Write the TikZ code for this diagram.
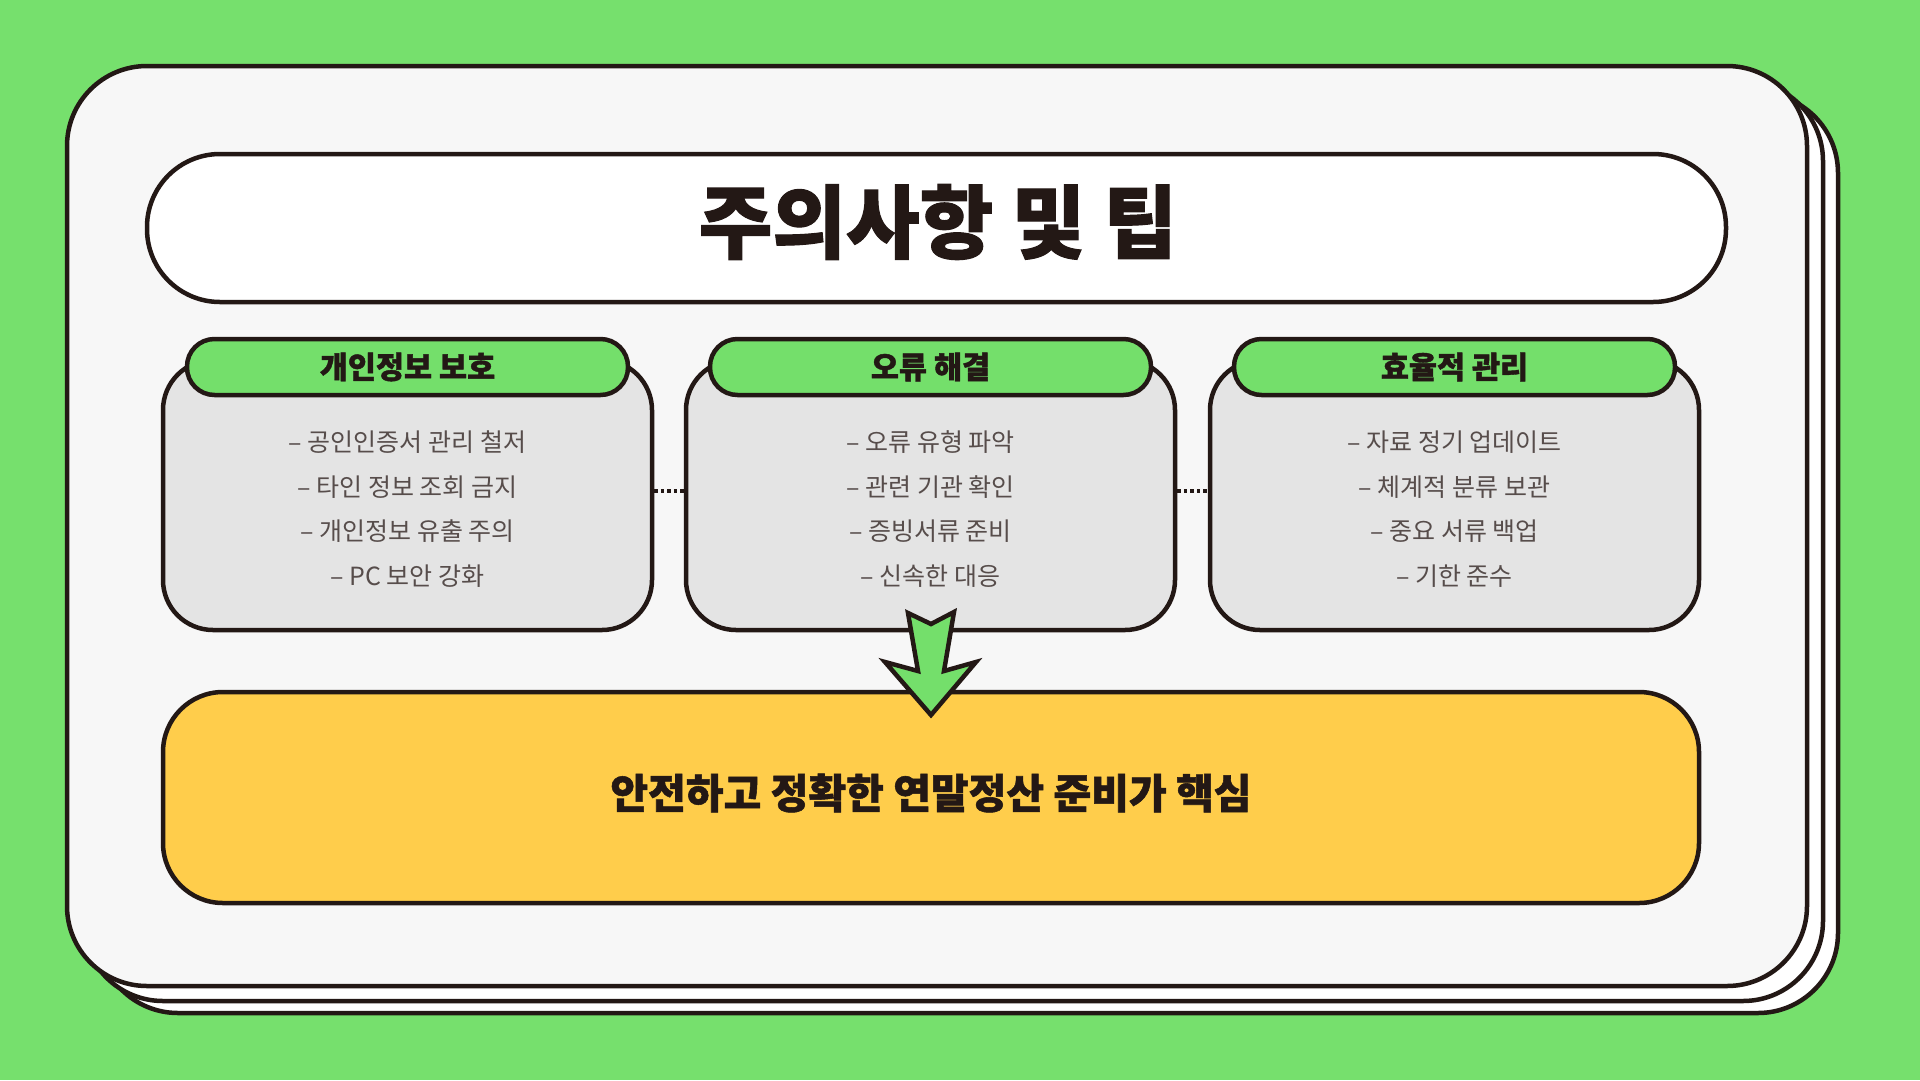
\documentclass[tikz,border=0pt]{standalone}
\usepackage{fontspec}
\newfontfamily\kor{Noto Sans CJK KR}
\newfontfamily\korh[BoldFeatures={FakeBold=1.3}]{Noto Sans CJK KR}
\definecolor{bggreen}{HTML}{76E06D}
\definecolor{hdrgreen}{HTML}{74DF6B}
\definecolor{cardgray}{HTML}{E4E4E4}
\definecolor{frontfill}{HTML}{F7F7F7}
\definecolor{goldfill}{HTML}{FFCD4B}
\definecolor{ink}{HTML}{231815}
\definecolor{itemgray}{HTML}{574D4B}
\tikzset{
  outl/.style={draw=ink, line width=4.5pt},
  backcard/.style={outl, fill=white, rounded corners=80pt},
  frontcard/.style={outl, fill=frontfill, rounded corners=80pt, minimum width=1740pt, minimum height=920pt, inner sep=0pt},
  pill/.style={outl, fill=white, rounded corners=73pt, minimum width=1579pt, minimum height=148pt, inner sep=0pt, text=ink},
  graybox/.style={outl, fill=cardgray, rounded corners=50pt, minimum width=489pt, minimum height=270pt, inner sep=0pt},
  header/.style={outl, fill=hdrgreen, rounded corners=27.5pt, minimum width=441pt, minimum height=56pt, inner sep=0pt, text=ink, font=\korh\bfseries\fontsize{30.5}{34}\selectfont},
  items/.style={align=center, text=itemgray, inner sep=0pt, font=\kor\fontsize{25}{44.7}\selectfont},
  goalbox/.style={outl, fill=goldfill, rounded corners=60pt, minimum width=1536pt, minimum height=211pt, inner sep=0pt, text=ink},
  dotline/.style={draw=ink, line width=3.5pt, dash pattern=on 3.5pt off 3pt},
  blockarrow/.style={outl, fill=hdrgreen, line join=miter}
}
\begin{document}
\begin{tikzpicture}[x=1pt,y=-1pt]
\useasboundingbox (0,0) rectangle (1920,1080);
\fill[bggreen] (0,0) rectangle (1920,1080);
% stacked back sheets
\draw[backcard] (98,93) rectangle (1838,1013);
\draw[backcard] (83,81) rectangle (1823,1001);
\node[frontcard] (main) at (937,526) {};
% title
\node[pill] (title) at (936.5,228) {};
\node[text=ink, inner sep=0pt] (titletext) at (938,222) {\korh\bfseries\fontsize{80}{84}\selectfont 주의사항 및 팁};
% cards
\node[graybox] (c1) at (407.5,495) {};
\node[graybox] (c2) at (930.5,495) {};
\node[graybox] (c3) at (1454.5,495) {};
\node[header] (h1) at (407.5,367) {개인정보 보호};
\node[header] (h2) at (930.5,367) {오류 해결};
\node[header] (h3) at (1454.5,367) {효율적 관리};
\node[items] (t1) at (407.5,509) {– 공인인증서 관리 철저\\– 타인 정보 조회 금지\\– 개인정보 유출 주의\\– PC 보안 강화};
\node[items] (t2) at (930.5,509) {– 오류 유형 파악\\– 관련 기관 확인\\– 증빙서류 준비\\– 신속한 대응};
\node[items] (t3) at (1454.5,509) {– 자료 정기 업데이트\\– 체계적 분류 보관\\– 중요 서류 백업\\– 기한 준수};
% dotted links
\draw[dotline] ([yshift=4pt]c1.east) -- ([yshift=4pt]c2.west);
\draw[dotline] ([yshift=4pt]c2.east) -- ([yshift=4pt]c3.west);
% goal box
\node[goalbox] (goal) at (931,797.5) {};
\node[text=ink, inner sep=0pt] (goaltext) at (931,793) {\korh\bfseries\fontsize{41}{45}\selectfont 안전하고 정확한 연말정산 준비가 핵심};
% block arrow from card 2 to goal
\draw[blockarrow] (908,613) -- (931,624) -- (954,612) -- (944,671) -- (976,662) -- (931,715) -- (885,662) -- (918,671) -- cycle;
\end{tikzpicture}
\end{document}
